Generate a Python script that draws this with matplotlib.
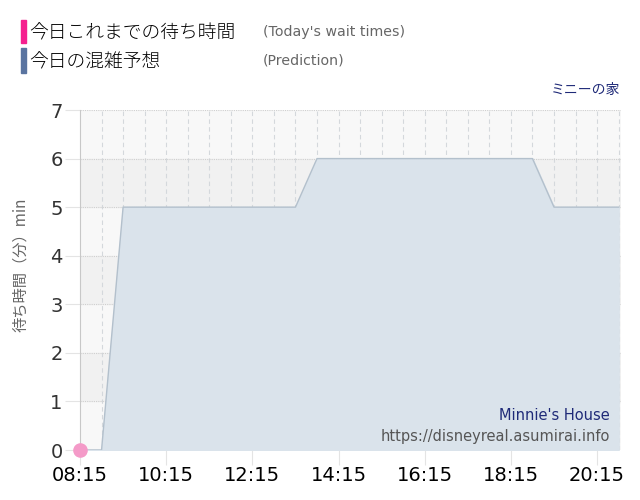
import matplotlib
matplotlib.use("Agg")
import matplotlib.pyplot as plt
import numpy as np

plt.rcParams['font.family'] = ['Noto Sans CJK JP', 'DejaVu Sans']

# time in hours since midnight, every 30 min
times = [8.25, 8.75, 9.25, 9.75, 10.25, 10.75, 11.25, 11.75, 12.25, 12.75,
         13.25, 13.75, 14.25, 14.75, 15.25, 15.75, 16.25, 16.75, 17.25,
         17.75, 18.25, 18.75, 19.25, 19.75, 20.25, 20.75]
prediction = [0, 0, 5, 5, 5, 5, 5, 5, 5, 5,
              5, 6, 6, 6, 6, 6, 6, 6, 6,
              6, 6, 6, 5, 5, 5, 5]
wait_times = [0]
wait_hours = [8.25]
tick_labels = ["08:15", "10:15", "12:15", "14:15", "16:15", "18:15", "20:15"]
tick_hours = [8.25, 10.25, 12.25, 14.25, 16.25, 18.25, 20.25]

fig = plt.figure(figsize=(6.4, 5), dpi=100)
ax = fig.add_axes([0.125, 0.1, 0.845, 0.68])
ax.set_xlim(8.25, 20.8)
ax.set_ylim(0, 7)
ax.set_facecolor("#f8f8f8")
# alternating bands
for lo in [1, 3, 5]:
    ax.axhspan(lo, lo + 1, color="#f1f1f1", zorder=0)

# grid
for h in np.arange(8.75, 20.8, 0.5):
    ax.axvline(h, color="#d4d8dc", lw=0.8, ls=(0, (4, 3)), zorder=1)
for v in range(1, 8):
    ax.axhline(v, color="#cfcfcf", lw=0.8, ls=(0, (1, 1)), zorder=1)

ax.fill_between(times, prediction, 0, color="#dae3eb", zorder=2)
ax.plot(times, prediction, color="#b3c0cc", lw=1, zorder=3)
ax.scatter(wait_hours, wait_times, s=90, color="#f49ac8", zorder=5, clip_on=False)

ax.set_xticks(tick_hours)
ax.set_xticklabels(tick_labels, fontsize=14, color="black", family="DejaVu Sans")
ax.set_yticks(range(0, 8))
ax.set_yticklabels([str(i) for i in range(0, 8)], fontsize=14, color="#333333",
                   family="DejaVu Sans")
ax.tick_params(axis="x", length=11, color="#e4e4e4", pad=0.5)
ax.tick_params(axis="y", length=11, color="#e4e4e4", pad=1.5)
for s in ["top", "right", "bottom"]:
    ax.spines[s].set_visible(False)
ax.spines["left"].set_color("#c8c8c8")
ax.set_ylabel("待ち時間（分）min", fontsize=11, color="#666666")
ax.yaxis.set_label_coords(-0.095, 0.544)

# legend header
fig.patches.append(plt.Rectangle((21 / 640, 1 - 43 / 500), 5 / 640, 23 / 500,
                                 transform=fig.transFigure, color="#f5208f"))
fig.patches.append(plt.Rectangle((21 / 640, 1 - 73 / 500), 5 / 640, 25 / 500,
                                 transform=fig.transFigure, color="#5a74a0"))
fig.text(29 / 640, 1 - 33 / 500, "今日これまでの待ち時間", fontsize=13.5,
         color="black", va="center", fontweight="light")
fig.text(29 / 640, 1 - 62 / 500, "今日の混雑予想", fontsize=13.5,
         color="black", va="center", fontweight="light")
fig.text(263 / 640, 1 - 32 / 500, "(Today's wait times)", fontsize=10.2,
         color="#666666", va="center", family="DejaVu Sans")
fig.text(263 / 640, 1 - 61 / 500, "(Prediction)", fontsize=10.2,
         color="#666666", va="center", family="DejaVu Sans")
fig.text(620 / 640, 1 - 90 / 500, "ミニーの家", fontsize=10, color="#1f2a78",
         ha="right", va="center")
fig.text(610 / 640, 1 - 416 / 500, "Minnie's House", fontsize=10.5, color="#1f2a78",
         ha="right", va="center", family="DejaVu Sans")
fig.text(610 / 640, 1 - 437 / 500, "https://disneyreal.asumirai.info", fontsize=10.5,
         color="#555555", ha="right", va="center", family="DejaVu Sans")

fig.savefig("out.png", dpi=100)
